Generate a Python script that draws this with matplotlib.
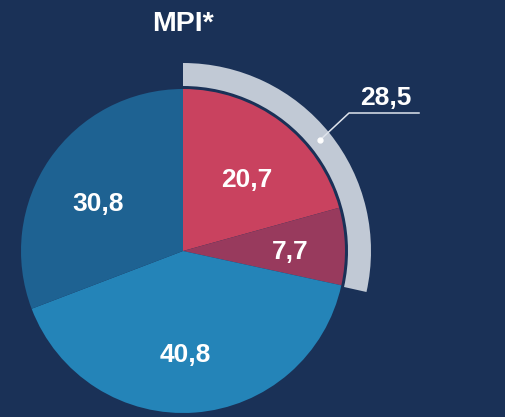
import numpy as np
import matplotlib
matplotlib.use("Agg")
import matplotlib.pyplot as plt

plt.rcParams["font.family"] = ["Liberation Sans", "DejaVu Sans"]

# 数据
TITLE = "MPI*"
SLICE_VALUES = [20.7, 7.7, 40.8, 30.8]
SLICE_LABELS = ["20,7", "7,7", "40,8", "30,8"]
RING_VALUE = 28.5
RING_LABEL = "28,5"

BG = "#1a3157"
SLICE_COLORS = ["#c9425f", "#983a5d", "#2484b8", "#1e6292"]
RING_COLOR = "#c1c9d5"

W, H = 505, 417
CENTER = (183, H - 251)
R_PIE = 162
R_RING = 188
RING_W = 23
# 标签位置：半径比例 + 角度微调（度）
LABEL_DIST = [0.59, 0.66, 0.64, 0.60]
LABEL_NUDGE = [-4.7, -2, -3, 5.6]


def main():
    fig = plt.figure(figsize=(W / 100, H / 100), dpi=100)
    fig.patch.set_facecolor(BG)
    ax = fig.add_axes([0, 0, 1, 1])
    ax.set_facecolor(BG)

    wedges, _ = ax.pie(
        SLICE_VALUES, colors=SLICE_COLORS, startangle=90, counterclock=False,
        radius=R_PIE, center=CENTER, wedgeprops=dict(linewidth=0),
    )
    ax.pie(
        [RING_VALUE, 100 - RING_VALUE], colors=[RING_COLOR, "none"],
        startangle=90, counterclock=False, radius=R_RING, center=CENTER,
        wedgeprops=dict(width=RING_W, linewidth=0),
    )

    # 扇区内数值
    for w, lab, f, nd in zip(wedges, SLICE_LABELS, LABEL_DIST, LABEL_NUDGE):
        ang = np.deg2rad((w.theta1 + w.theta2) / 2 + nd)
        x = CENTER[0] + f * R_PIE * np.cos(ang)
        y = CENTER[1] + f * R_PIE * np.sin(ang)
        ax.text(x, y, lab, ha="center", va="center", color="white",
                fontsize=19, fontweight="bold")

    # 外环引线与标注
    ang = np.deg2rad(39)
    rm = R_RING - RING_W / 2
    dx, dy = CENTER[0] + rm * np.cos(ang), CENTER[1] + rm * np.sin(ang)
    ax.plot([dx], [dy], "o", color="white", ms=3.5, zorder=5)
    ax.plot([dx, 349, 419], [dy, H - 113, H - 113], color="#dfe4ec", lw=1.1, zorder=4)
    ax.text(386, H - 98, RING_LABEL, ha="center", va="center", color="white",
            fontsize=19, fontweight="bold")

    ax.text(CENTER[0], H - 24, TITLE, ha="center", va="center", color="white",
            fontsize=20.5, fontweight="bold")

    ax.set_xlim(0, W)
    ax.set_ylim(0, H)
    ax.set_aspect("equal")
    ax.axis("off")
    fig.savefig("out.png", dpi=100, facecolor=BG)


if __name__ == "__main__":
    main()
